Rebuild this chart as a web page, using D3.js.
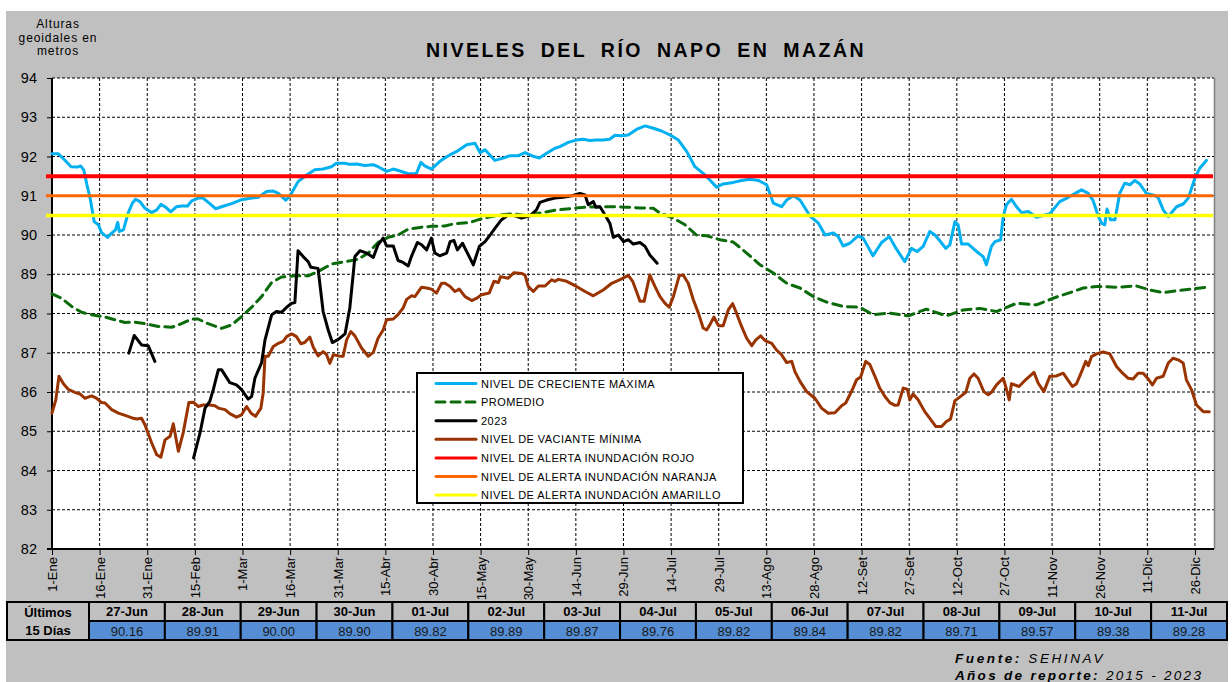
<!DOCTYPE html>
<html><head><meta charset="utf-8">
<script src="https://cdn.jsdelivr.net/npm/d3@7/dist/d3.min.js"></script>
<style>body{margin:0;background:#fff}svg{display:block;font-family:Arial,"Liberation Sans",sans-serif}</style>
</head><body><svg id="c" width="1232" height="682"></svg>
<script>
// ---------- DATA ----------
const yTicks = [82,83,84,85,86,87,88,89,90,91,92,93,94];
const xTickDays = [0,15,30,45,60,75,90,105,120,135,150,165,180,195,210,225,240,255,270,285,300,315,330,345,360];
const xTickLabels = ["1-Ene","16-Ene","31-Ene","15-Feb","1-Mar","16-Mar","31-Mar","15-Abr","30-Abr","15-May","30-May","14-Jun","29-Jun","14-Jul","29-Jul","13-Ago","28-Ago","12-Set","27-Set","12-Oct","27-Oct","11-Nov","26-Nov","11-Dic","26-Dic"];

const alertRojo = 91.5, alertNaranja = 91.0, alertAmarillo = 90.5;

// [day of year, level]
const creciente = [[0,92.07],[2,92.07],[4,91.91],[6,91.74],[8,91.73],[9,91.76],[10,91.66],[11,91.28],[12,90.94],[13.3,90.34],[14.6,90.26],[15.6,90.06],[17.5,89.94],[18.8,90.05],[20,90.13],[20.7,90.32],[21.2,90.09],[22.5,90.13],[24,90.56],[25.3,90.81],[26.3,90.91],[27.7,90.85],[29.3,90.68],[31.4,90.57],[33,90.64],[34.3,90.78],[35.8,90.71],[37.4,90.59],[39.2,90.72],[40.8,90.74],[42.7,90.74],[44,90.87],[46,90.94],[47.6,90.94],[49.7,90.8],[51.5,90.67],[53.4,90.72],[56.6,90.8],[59.7,90.9],[62.9,90.94],[65,90.96],[67.6,91.11],[69.7,91.12],[71.3,91.06],[73.6,90.89],[75,91.0],[77.5,91.36],[80.2,91.53],[82.8,91.66],[85.4,91.68],[88,91.74],[89.6,91.83],[92.2,91.83],[93.8,91.8],[95.9,91.81],[98.5,91.77],[101.2,91.79],[102.7,91.74],[105.4,91.62],[107.5,91.68],[109.6,91.63],[112.2,91.56],[114.8,91.57],[116.2,91.85],[117.4,91.76],[119.5,91.68],[122.1,91.87],[123.7,91.96],[125.3,92.04],[127.5,92.13],[130.6,92.3],[133.2,92.34],[134.8,92.1],[136.4,92.17],[139.5,91.9],[142.1,91.96],[144.2,92.02],[146.9,92.02],[149,92.1],[151.1,92.02],[153.5,91.96],[155.8,92.08],[158.4,92.21],[160,92.25],[162.6,92.36],[165.2,92.42],[167.3,92.44],[169.4,92.41],[171.5,92.42],[173.6,92.42],[175.7,92.44],[177.3,92.54],[179.4,92.53],[181.5,92.55],[184.1,92.69],[186.8,92.78],[189.4,92.72],[192,92.65],[194.6,92.55],[197.3,92.42],[199.9,92.13],[202.5,91.74],[205.1,91.57],[207.2,91.4],[209.3,91.22],[211.4,91.3],[214.6,91.34],[217.2,91.39],[219.8,91.42],[222.5,91.39],[225.1,91.28],[227.2,90.81],[229.8,90.72],[231.4,90.89],[233.5,91.0],[235.6,90.89],[238.7,90.49],[241.4,90.3],[243.5,90.0],[246.1,90.05],[247.6,89.96],[249.2,89.72],[251.3,89.79],[253.9,89.98],[255.5,89.92],[258.6,89.47],[261.3,89.81],[263.7,89.96],[266,89.64],[268.6,89.32],[270.7,89.66],[272.5,89.58],[274.4,89.71],[276.5,90.09],[278.1,90.0],[279.4,89.88],[281.5,89.66],[282.8,89.75],[284.4,90.34],[285.4,90.26],[286.5,89.77],[288.6,89.77],[291.2,89.58],[293.3,89.45],[294.3,89.24],[295.9,89.71],[297,89.83],[298.8,89.88],[299.6,90.47],[300.6,90.77],[302.2,90.91],[303.8,90.72],[305.4,90.57],[307.5,90.6],[310.1,90.45],[312.7,90.51],[314.3,90.54],[317.4,90.85],[320.1,90.96],[322.7,91.08],[324.3,91.15],[326.4,91.06],[327.9,90.88],[329.5,90.49],[330.6,90.3],[331.6,90.26],[332.3,90.66],[333.4,90.39],[334.8,90.39],[336.3,91.06],[337.9,91.32],[339.5,91.28],[341.1,91.39],[342.6,91.3],[344.7,91.06],[346.8,91.02],[348.4,90.96],[350,90.64],[351.6,90.47],[354.2,90.72],[356.3,90.79],[357.9,90.94],[360,91.45],[361.5,91.7],[363.6,91.9]];

const promedio = [[0,88.5],[3,88.39],[6.2,88.18],[9.3,88.03],[12.5,87.97],[16.7,87.91],[19.8,87.84],[23,87.77],[26.1,87.78],[29.3,87.74],[33.5,87.67],[37.7,87.65],[40.8,87.74],[44,87.86],[46,87.86],[49.2,87.74],[53.4,87.62],[56.6,87.71],[59.7,87.92],[62.9,88.16],[66,88.43],[69.2,88.79],[72.3,88.93],[76.5,88.96],[80.7,88.96],[83.8,89.07],[88,89.26],[92.2,89.32],[96.4,89.38],[99.6,89.54],[102.7,89.81],[105.9,89.94],[109,90.0],[112.2,90.15],[116.4,90.2],[119.5,90.22],[123.7,90.23],[126.4,90.28],[131.7,90.32],[135.8,90.43],[141.1,90.51],[145.3,90.54],[149.5,90.49],[153.7,90.56],[159,90.64],[164.2,90.68],[168.4,90.71],[172.6,90.72],[176.8,90.72],[181,90.71],[185.2,90.69],[189.4,90.68],[191.5,90.56],[195.7,90.43],[199.4,90.26],[203,90.0],[206.2,89.98],[210.4,89.88],[214.6,89.82],[218.8,89.54],[223,89.24],[227.2,89.03],[231.4,88.77],[235.6,88.65],[239.8,88.43],[244,88.29],[249.2,88.18],[254.4,88.16],[258.6,87.97],[263.9,88.01],[269.7,87.94],[275.4,88.11],[281.7,87.94],[287,88.09],[292.2,88.13],[297.5,88.05],[303.8,88.26],[310.1,88.22],[316.4,88.42],[320.6,88.53],[324.8,88.65],[329,88.69],[335.3,88.67],[341.6,88.7],[345.8,88.6],[350,88.53],[356.3,88.6],[363.6,88.67]];

const nivel2023 = [[24.2,86.99],[25.9,87.44],[28.2,87.2],[30.3,87.18],[32.4,86.78],null,
[44.6,84.32],[46.6,84.95],[48.2,85.59],[49.7,85.76],[50.8,86.06],[52.4,86.57],[53.4,86.57],[56,86.24],[58.1,86.18],[59.7,86.06],[61.8,85.82],[62.9,85.89],[63.9,86.35],[66,86.74],[67.1,87.33],[69.2,87.97],[70.7,88.05],[72.3,88.03],[73.9,88.16],[75.5,88.26],[76.5,88.28],[77.5,89.6],[79.1,89.45],[80.7,89.32],[81.5,89.18],[83.8,89.15],[85.4,88.05],[87,87.58],[88.3,87.26],[90.2,87.34],[92.3,87.48],[93.8,88.14],[94.9,89.03],[95.4,89.45],[97,89.6],[99.1,89.54],[101.2,89.43],[102.7,89.75],[104.3,89.92],[105.4,89.72],[107.5,89.72],[109,89.35],[110.6,89.3],[112.2,89.21],[113.2,89.45],[115.1,89.81],[116.4,89.75],[118,89.62],[119.5,89.92],[120.6,89.54],[122.1,89.47],[124.3,89.54],[125.4,89.83],[126.6,89.86],[127.7,89.62],[129.3,89.79],[130.6,89.58],[132.7,89.24],[134.6,89.71],[136.4,89.83],[138,90.0],[139.5,90.17],[141.6,90.39],[143.7,90.51],[145.8,90.49],[147.9,90.43],[150.5,90.49],[152.6,90.64],[153.7,90.83],[155.8,90.89],[158.4,90.94],[161,90.96],[163.7,91.0],[166.3,91.06],[167.9,91.02],[168.9,90.77],[170.5,90.85],[171.3,90.71],[172.6,90.72],[174.2,90.51],[175.7,90.3],[176.8,89.94],[178.4,90.0],[180,89.83],[181.5,89.88],[183.1,89.77],[185.2,89.81],[186.8,89.71],[188.3,89.49],[190.6,89.28]];

const vaciante = [[0,85.46],[1.2,85.8],[2.2,86.4],[3.6,86.21],[5.1,86.07],[7.2,85.99],[8.8,85.95],[10.4,85.84],[12.5,85.9],[14.1,85.84],[15.6,85.73],[16.7,85.72],[18.8,85.55],[20.9,85.46],[23.5,85.39],[25.6,85.33],[26.7,85.31],[28.2,85.33],[29.3,85.16],[31.4,84.7],[33,84.4],[34.3,84.34],[35.6,84.78],[37.2,84.87],[38.2,85.19],[39.8,84.49],[41.3,84.95],[43.1,85.73],[44.5,85.74],[46.1,85.63],[47.6,85.67],[49.7,85.67],[51.3,85.65],[52.4,85.59],[54.5,85.55],[56,85.45],[58.1,85.36],[59.7,85.42],[61.3,85.63],[62.7,85.46],[64.1,85.38],[65.8,85.59],[66.5,85.97],[67.1,86.91],[68.1,86.91],[69.7,87.16],[71.3,87.24],[72.8,87.29],[73.9,87.41],[75.5,87.48],[77,87.41],[78.4,87.23],[79.6,87.26],[81.2,87.4],[82.3,87.14],[83.8,86.92],[85.4,87.03],[86.5,86.95],[87.5,86.73],[88.6,86.95],[90.2,86.92],[91.7,86.91],[92.8,87.33],[94.1,87.54],[95.4,87.43],[97.5,87.12],[99.6,86.91],[101.2,87.01],[102.7,87.37],[104.3,87.58],[105.4,87.84],[107.5,87.86],[109,87.97],[110.6,88.14],[111.7,88.36],[113.2,88.45],[114.3,88.43],[116.4,88.67],[118,88.65],[119.5,88.62],[121.1,88.52],[122.7,88.77],[123.8,88.77],[125.4,88.69],[126.9,88.56],[128.3,88.62],[130.1,88.43],[132.2,88.33],[133.8,88.39],[135.3,88.48],[137.7,88.52],[139.2,88.82],[140.6,88.79],[141.3,88.94],[143.7,88.9],[145.5,89.04],[147.9,89.02],[149,88.98],[150,88.69],[151.6,88.56],[153.2,88.7],[155.3,88.7],[157.4,88.86],[158.4,88.82],[159.5,88.87],[162.1,88.82],[165.2,88.69],[167.9,88.56],[170.5,88.45],[173.6,88.6],[176.3,88.77],[178.9,88.86],[181.5,88.97],[182.9,88.82],[184.1,88.56],[185.2,88.31],[186.5,88.31],[188.3,88.98],[189.9,88.69],[191.5,88.43],[193.1,88.26],[194.4,88.16],[195.7,88.43],[197.6,88.97],[198.8,88.98],[200.4,88.77],[202,88.35],[203.6,88.01],[205.1,87.63],[206.2,87.58],[207.2,87.71],[208.5,87.91],[209.9,87.69],[211.4,87.69],[213,88.09],[214.4,88.25],[215.6,88.01],[217.2,87.67],[218.8,87.37],[220.4,87.18],[221.7,87.33],[223.2,87.43],[224.6,87.31],[226.7,87.24],[228.2,87.07],[229.8,86.95],[231.4,86.75],[233,86.78],[234,86.52],[235.6,86.27],[237.7,86.01],[240.3,85.84],[242.4,85.59],[244.5,85.46],[246.6,85.47],[248.7,85.65],[250,85.72],[251.3,85.93],[252.3,86.1],[253.4,86.31],[254.7,86.38],[256.3,86.78],[257.6,86.7],[259.2,86.4],[260.7,86.1],[262.3,85.89],[263.9,85.73],[265.5,85.66],[266.5,85.67],[268.1,86.1],[269.4,86.07],[270.2,85.8],[271.2,85.95],[272.8,85.8],[274.9,85.5],[276.5,85.33],[278.4,85.12],[280.2,85.12],[281.7,85.25],[283,85.31],[284.4,85.78],[285.9,85.87],[287.8,85.99],[289.1,86.35],[290.4,86.46],[291.7,86.35],[293.5,86.01],[294.9,85.93],[295.9,85.99],[297.5,86.18],[299.6,86.35],[300.4,86.14],[301.5,85.8],[302.2,86.21],[304.6,86.14],[306.9,86.33],[309.3,86.5],[310.6,86.23],[312.4,86.01],[314.3,86.4],[316.4,86.41],[318.5,86.48],[319.8,86.33],[321.4,86.14],[322.7,86.21],[324.3,86.52],[325.6,86.78],[326.4,86.67],[327.4,86.9],[329,86.97],[331.1,87.02],[333.2,86.97],[335.3,86.65],[337.2,86.48],[339,86.35],[340.5,86.33],[342.1,86.48],[343.7,86.48],[345.3,86.33],[346.6,86.18],[347.9,86.35],[350,86.4],[351.6,86.74],[353.1,86.86],[354.7,86.82],[356.3,86.74],[357.3,86.31],[358.9,86.06],[360.5,85.67],[362.6,85.5],[364.5,85.5]];

const tableDates = ["27-Jun","28-Jun","29-Jun","30-Jun","01-Jul","02-Jul","03-Jul","04-Jul","05-Jul","06-Jul","07-Jul","08-Jul","09-Jul","10-Jul","11-Jul"];
const tableValues = [90.16,89.91,90.00,89.90,89.82,89.89,89.87,89.76,89.82,89.84,89.82,89.71,89.57,89.38,89.28];

const legendNames = ["NIVEL DE CRECIENTE MÁXIMA","PROMEDIO","2023","NIVEL DE VACIANTE MÍNIMA","NIVEL DE ALERTA INUNDACIÓN ROJO","NIVEL DE ALERTA INUNDACIÓN NARANJA","NIVEL DE ALERTA INUNDACIÓN AMARILLO"];

// ---------- DRAW ----------
const svg = d3.select("#c");
const L = 52, R = 1214, T = 78, B = 549;
const x = d3.scaleLinear().domain([0,366]).range([L,R]);
const y = d3.scaleLinear().domain([82,94]).range([B,T]);

const C = {max:"#00b0f0", avg:"#0b6b0b", y23:"#000000", min:"#993300", rojo:"#ff0000", nar:"#ff6600", ama:"#ffff00"};

svg.append("rect").attr("x",6).attr("y",11).attr("width",1222).attr("height",671).attr("fill","#c0c0c0");
svg.append("rect").attr("x",L).attr("y",T).attr("width",R-L).attr("height",B-T).attr("fill","#fff");

// grid
const g = svg.append("g");
g.selectAll(".hg").data(yTicks.filter(v=>v>82)).join("line")
  .attr("x1",L).attr("x2",R).attr("y1",d=>y(d)).attr("y2",d=>y(d))
  .attr("stroke","#000").attr("stroke-width",1).attr("stroke-dasharray","3,2");
g.selectAll(".vg").data(xTickDays.filter(v=>v>0)).join("line")
  .attr("x1",d=>x(d)).attr("x2",d=>x(d)).attr("y1",T).attr("y2",B)
  .attr("stroke","#000").attr("stroke-width",1).attr("stroke-dasharray","3,2");

// axes
const yAxis = d3.axisLeft(y).tickValues(yTicks).tickSize(5).tickPadding(10).tickFormat(d3.format("d"));
const ya = svg.append("g").attr("transform",`translate(${L},0)`).call(yAxis);
ya.select(".domain").remove();
ya.selectAll("text").attr("font-size",14.5).attr("fill","#000").attr("font-family","Arial, Liberation Sans");
const xAxis = d3.axisBottom(x).tickValues(xTickDays).tickSize(6).tickFormat((d,i)=>xTickLabels[i]);
const xa = svg.append("g").attr("transform",`translate(0,${B})`).call(xAxis);
xa.select(".domain").remove();
xa.selectAll("text").attr("font-size",13).attr("fill","#000").attr("font-family","Arial, Liberation Sans")
  .attr("text-anchor","end").attr("transform","translate(4.5,8) rotate(-90)").attr("x",0).attr("y",0).attr("dy",0);
svg.append("line").attr("x1",L).attr("x2",L).attr("y1",T).attr("y2",B+1).attr("stroke","#000").attr("stroke-width",2);
svg.append("line").attr("x1",L-5).attr("x2",R).attr("y1",B).attr("y2",B).attr("stroke","#000").attr("stroke-width",2);
svg.append("line").attr("x1",R+0.5).attr("x2",R+0.5).attr("y1",T).attr("y2",B).attr("stroke","#7f7f7f").attr("stroke-width",1.5);

// series
const line = d3.line().defined(d=>d!==null).x(d=>x(d[0])).y(d=>y(d[1]));
const series = [
  {data:vaciante, color:C.min, dash:null},
  {data:promedio, color:C.avg, dash:"9,6"},
  {data:nivel2023, color:C.y23, dash:null},
  {data:creciente, color:C.max, dash:null}
];
series.forEach(s=>{
  svg.append("path").datum(s.data).attr("d",line).attr("fill","none")
    .attr("stroke",s.color).attr("stroke-width",3).attr("stroke-linejoin","round").attr("stroke-linecap","round")
    .attr("stroke-dasharray",s.dash);
});
// alert lines
[[alertAmarillo,C.ama,3.5],[alertNaranja,C.nar,3],[alertRojo,C.rojo,4]].forEach(a=>{
  svg.append("line").attr("x1",46).attr("x2",R-1).attr("y1",y(a[0])).attr("y2",y(a[0]))
    .attr("stroke",a[1]).attr("stroke-width",a[2]);
});

// legend
const lg = svg.append("g");
lg.append("rect").attr("x",417).attr("y",373).attr("width",326).attr("height",130).attr("fill","#fff").attr("stroke","#000").attr("stroke-width",2);
const lgStyle = [[C.max,null],[C.avg,"9,6"],[C.y23,null],[C.min,null],[C.rojo,null],[C.nar,null],[C.ama,null]];
legendNames.forEach((n,i)=>{
  const yy = 383.5 + i*18.6;
  lg.append("line").attr("x1",436).attr("x2",476).attr("y1",yy).attr("y2",yy)
    .attr("stroke",lgStyle[i][0]).attr("stroke-width",3).attr("stroke-dasharray",lgStyle[i][1]).attr("stroke-linecap","round");
  lg.append("text").attr("x",481).attr("y",yy+4).attr("font-size",11).attr("letter-spacing",0.45).attr("fill","#000").text(n);
});

// titles
svg.append("text").attr("x",646).attr("y",57).attr("text-anchor","middle").attr("font-size",19.5).attr("font-weight","bold")
  .attr("letter-spacing",2.5).attr("word-spacing",6).text("NIVELES DEL RÍO NAPO EN MAZÁN");
["Alturas","geoidales en","metros"].forEach((t,i)=>{
  svg.append("text").attr("x",58).attr("y",28+i*13.5).attr("text-anchor","middle").attr("font-size",12).attr("letter-spacing",0.9).text(t);
});

// table
const tX0 = 7, tX1 = 89, tX2 = 1227, tY0 = 602, tY1 = 621, tY2 = 640;
const cw = (tX2 - tX1) / tableDates.length;
const tb = svg.append("g");
tb.append("rect").attr("x",tX0).attr("y",tY0).attr("width",tX1-tX0).attr("height",tY2-tY0).attr("fill","#c0c0c0").attr("stroke","#000").attr("stroke-width",2);
tb.append("text").attr("x",(tX0+tX1)/2).attr("y",617).attr("text-anchor","middle").attr("font-size",13).attr("font-weight","bold").text("Últimos");
tb.append("text").attr("x",(tX0+tX1)/2).attr("y",635).attr("text-anchor","middle").attr("font-size",13).attr("font-weight","bold").text("15 Días");
tableDates.forEach((d,i)=>{
  const cx = tX1 + i*cw;
  tb.append("rect").attr("x",cx).attr("y",tY0).attr("width",cw).attr("height",tY1-tY0).attr("fill","#c0c0c0").attr("stroke","#000").attr("stroke-width",2);
  tb.append("rect").attr("x",cx).attr("y",tY1).attr("width",cw).attr("height",tY2-tY1).attr("fill","#558ed5").attr("stroke","#000").attr("stroke-width",2);
  tb.append("text").attr("x",cx+cw/2).attr("y",616).attr("text-anchor","middle").attr("font-size",13).attr("font-weight","bold").text(d);
  tb.append("text").attr("x",cx+cw/2).attr("y",635.5).attr("text-anchor","middle").attr("font-size",13).attr("fill","#1a1a1a").text(tableValues[i].toFixed(2));
});

// footer
const f1 = svg.append("text").attr("x",955).attr("y",663).attr("font-size",13.5).attr("font-style","italic").attr("letter-spacing",2.6);
f1.append("tspan").attr("font-weight","bold").text("Fuente: ");
f1.append("tspan").text("SEHINAV");
const f2 = svg.append("text").attr("x",955).attr("y",679.5).attr("font-size",13.5).attr("font-style","italic").attr("letter-spacing",2.3);
f2.append("tspan").attr("font-weight","bold").text("Años de reporte: ");
f2.append("tspan").text("2015 - 2023");
</script></body></html>
